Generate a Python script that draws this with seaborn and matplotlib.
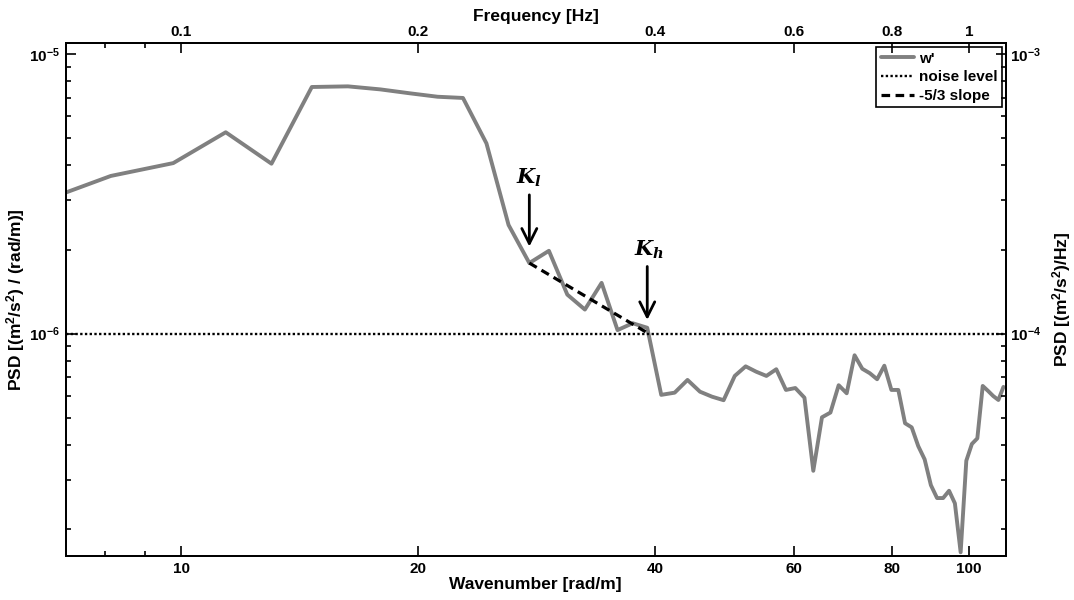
import numpy as np
import pandas as pd
import matplotlib
matplotlib.use("Agg")
import matplotlib.pyplot as plt
from matplotlib.ticker import FixedLocator, FixedFormatter, NullFormatter
import seaborn as sns

# Wavenumber bins [rad/m]
wavenumber = [6.51, 8.14, 9.77, 11.39, 13.02, 14.65, 16.28, 17.90, 19.53, 21.16,
              22.79, 24.41, 26.04, 27.67, 29.30, 30.92, 32.55, 34.18, 35.81, 37.43,
              39.06, 40.69, 42.32, 43.94, 45.57, 47.20, 48.83, 50.45, 52.08, 53.71,
              55.34, 56.96, 58.59, 60.22, 61.85, 63.47, 65.10, 66.73, 68.36, 69.98,
              71.61, 73.24, 74.87, 76.49, 78.12, 79.75, 81.38, 83.00, 84.63, 86.26,
              87.89, 89.51, 91.14, 92.77, 94.40, 96.02, 97.65, 99.28, 100.91, 102.53,
              104.16, 105.79, 107.42, 109.04, 110.67]

# Vertical velocity spectrum w' [(m^2/s^2)/(rad/m)]
psd_w = [2.91e-6, 3.67e-6, 4.08e-6, 5.26e-6, 4.06e-6, 7.64e-6, 7.68e-6, 7.49e-6, 7.25e-6, 7.05e-6,
         6.98e-6, 4.80e-6, 2.45e-6, 1.79e-6, 1.98e-6, 1.38e-6, 1.22e-6, 1.52e-6, 1.03e-6, 1.09e-6,
         1.05e-6, 6.04e-7, 6.15e-7, 6.83e-7, 6.20e-7, 5.95e-7, 5.78e-7, 7.06e-7, 7.64e-7, 7.31e-7,
         7.06e-7, 7.46e-7, 6.29e-7, 6.39e-7, 5.90e-7, 3.23e-7, 5.02e-7, 5.22e-7, 6.54e-7, 6.12e-7,
         8.37e-7, 7.49e-7, 7.22e-7, 6.87e-7, 7.68e-7, 6.29e-7, 6.29e-7, 4.78e-7, 4.62e-7, 3.96e-7,
         3.55e-7, 2.87e-7, 2.58e-7, 2.58e-7, 2.74e-7, 2.47e-7, 1.65e-7, 3.51e-7, 4.03e-7, 4.22e-7,
         6.50e-7, 6.24e-7, 5.98e-7, 5.79e-7, 6.45e-7]

NOISE_LEVEL = 1e-6
K_LOW = 27.67    # start of the inertial subrange
K_HIGH = 39.06   # end of the inertial subrange

k_ticks = [10, 20, 40, 60, 80, 100]
k_tick_labels = ["10", "20", "40", "60", "80", "100"]
k_minor = [8, 9]
f_ticks = [0.1, 0.2, 0.4, 0.6, 0.8, 1.0]
f_tick_labels = ["0.1", "0.2", "0.4", "0.6", "0.8", "1"]
f_minor = [0.08, 0.09]
psd_ticks = [1e-6, 1e-5]
psd_tick_labels = [r"$10^{-6}$", r"$10^{-5}$"]
psd_hz_ticks = [1e-4, 1e-3]
psd_hz_tick_labels = [r"$10^{-4}$", r"$10^{-3}$"]

K_TO_F = 0.01        # frequency [Hz] per wavenumber [rad/m]
PSD_K_TO_HZ = 100.0  # spectral density conversion factor

XLIM = (7.13, 111.5)
YLIM = (1.60e-7, 1.095e-5)

sns.set_theme(style="ticks")
plt.rcParams.update({
    "font.family": ["Liberation Sans", "DejaVu Sans"],
    "font.weight": "bold",
    "axes.labelweight": "bold",
    "axes.labelcolor": "black",
    "text.color": "black",
    "mathtext.fontset": "custom",
    "mathtext.rm": "Liberation Sans:bold",
    "mathtext.bf": "Liberation Sans:bold",
    "mathtext.it": "Liberation Sans:italic:bold",
    "mathtext.default": "bf",
    "axes.edgecolor": "black",
    "axes.linewidth": 1.2,
    "xtick.color": "black",
    "ytick.color": "black",
})

TICK_FS = 11
LABEL_FS = 12.5

fig = plt.figure(figsize=(10.74, 6.0), dpi=100)
ax = fig.add_axes([0.061, 0.0733, 0.8757, 0.8545])

df = pd.DataFrame({"k": wavenumber, "psd": psd_w})
sns.lineplot(data=df, x="k", y="psd", ax=ax, color="#808080", lw=2.8,
             estimator=None, label="w'", zorder=2)

ax.axhline(NOISE_LEVEL, color="black", ls=(0, (1, 1)), lw=1.7,
           label="noise level", zorder=3)

# -5/3 reference slope across the inertial subrange
psd_low = psd_w[wavenumber.index(K_LOW)]
slope_k = np.array([K_LOW, K_HIGH])
slope_psd = psd_low * (slope_k / K_LOW) ** (-5.0 / 3.0)
ax.plot(slope_k, slope_psd, color="black", ls=(0, (2.7, 1.7)), lw=2.3,
        label="-5/3 slope", zorder=4)

ax.set_xscale("log")
ax.set_yscale("log")
ax.set_xlim(*XLIM)
ax.set_ylim(*YLIM)

ax.xaxis.set_major_locator(FixedLocator(k_ticks))
ax.xaxis.set_major_formatter(FixedFormatter(k_tick_labels))
ax.xaxis.set_minor_locator(FixedLocator(k_minor))
ax.xaxis.set_minor_formatter(NullFormatter())

psd_minor = [m * 10.0 ** e for e in (-7, -6) for m in range(2, 10)]
ax.yaxis.set_major_locator(FixedLocator(psd_ticks))
ax.yaxis.set_major_formatter(FixedFormatter(psd_tick_labels))
ax.yaxis.set_minor_locator(FixedLocator(psd_minor))
ax.yaxis.set_minor_formatter(NullFormatter())

tick_kw = dict(direction="in", width=1.2, labelsize=TICK_FS, colors="black")
ax.tick_params(which="major", length=7, pad=4, **tick_kw)
ax.tick_params(which="minor", length=3.5, **tick_kw)
ax.tick_params(top=False, right=False)

ax.set_xlabel("Wavenumber [rad/m]", fontsize=LABEL_FS, fontweight="bold",
              color="black", labelpad=1)
ax.set_ylabel(r"PSD [(m$^2$/s$^2$) / (rad/m)]", fontsize=LABEL_FS, fontweight="bold",
              color="black", labelpad=1.5)

# Right axis: PSD per Hz
axr = ax.twinx()
axr.set_yscale("log")
axr.set_ylim(YLIM[0] * PSD_K_TO_HZ, YLIM[1] * PSD_K_TO_HZ)
axr.yaxis.set_major_locator(FixedLocator(psd_hz_ticks))
axr.yaxis.set_major_formatter(FixedFormatter(psd_hz_tick_labels))
axr.yaxis.set_minor_locator(FixedLocator([v * PSD_K_TO_HZ for v in psd_minor]))
axr.yaxis.set_minor_formatter(NullFormatter())
axr.tick_params(which="major", length=7, pad=3, **tick_kw)
axr.tick_params(which="minor", length=3.5, **tick_kw)
axr.set_ylabel(r"PSD [(m$^2$/s$^2$)/Hz]", fontsize=LABEL_FS, fontweight="bold",
               color="black", labelpad=6)

# Top axis: frequency
axt = ax.twiny()
axt.set_xscale("log")
axt.set_xlim(XLIM[0] * K_TO_F, XLIM[1] * K_TO_F)
axt.xaxis.set_major_locator(FixedLocator(f_ticks))
axt.xaxis.set_major_formatter(FixedFormatter(f_tick_labels))
axt.xaxis.set_minor_locator(FixedLocator(f_minor))
axt.xaxis.set_minor_formatter(NullFormatter())
axt.tick_params(which="major", length=7, pad=3, **tick_kw)
axt.tick_params(which="minor", length=3.5, **tick_kw)
axt.set_xlabel("Frequency [Hz]", fontsize=LABEL_FS, fontweight="bold",
               color="black", labelpad=3)

for a in (ax, axr, axt):
    for s in a.spines.values():
        s.set_color("black")
        s.set_linewidth(1.2)

# Arrows marking the limits of the inertial subrange
arrow_kw = dict(arrowstyle="->,head_length=0.9,head_width=0.45", lw=2.0,
                color="black", shrinkA=0, shrinkB=0, mutation_scale=12)
ax.annotate("", xy=(K_LOW, 2.05e-6), xytext=(K_LOW, 3.14e-6), arrowprops=arrow_kw, zorder=5)
ax.annotate("", xy=(K_HIGH, 1.12e-6), xytext=(K_HIGH, 1.74e-6), arrowprops=arrow_kw, zorder=5)
ax.text(K_LOW, 3.6e-6, r"$\mathbfit{K}_{\mathbfit{l}}$", math_fontfamily="dejavuserif",
        fontsize=15, ha="center", va="center", color="black")
ax.text(K_HIGH * 1.005, 2.0e-6, r"$\mathbfit{K}_{\mathbfit{h}}$", math_fontfamily="dejavuserif",
        fontsize=15, ha="center", va="center", color="black")

leg = ax.legend(loc="upper right", frameon=True, fancybox=False, edgecolor="black",
                framealpha=1, fontsize=11, handlelength=2.2, handletextpad=0.3,
                labelspacing=0.3, borderpad=0.3, borderaxespad=0.25)
leg.get_frame().set_linewidth(1.2)
for t in leg.get_texts():
    t.set_fontweight("bold")
    t.set_color("black")

fig.savefig("out.png", dpi=100)
